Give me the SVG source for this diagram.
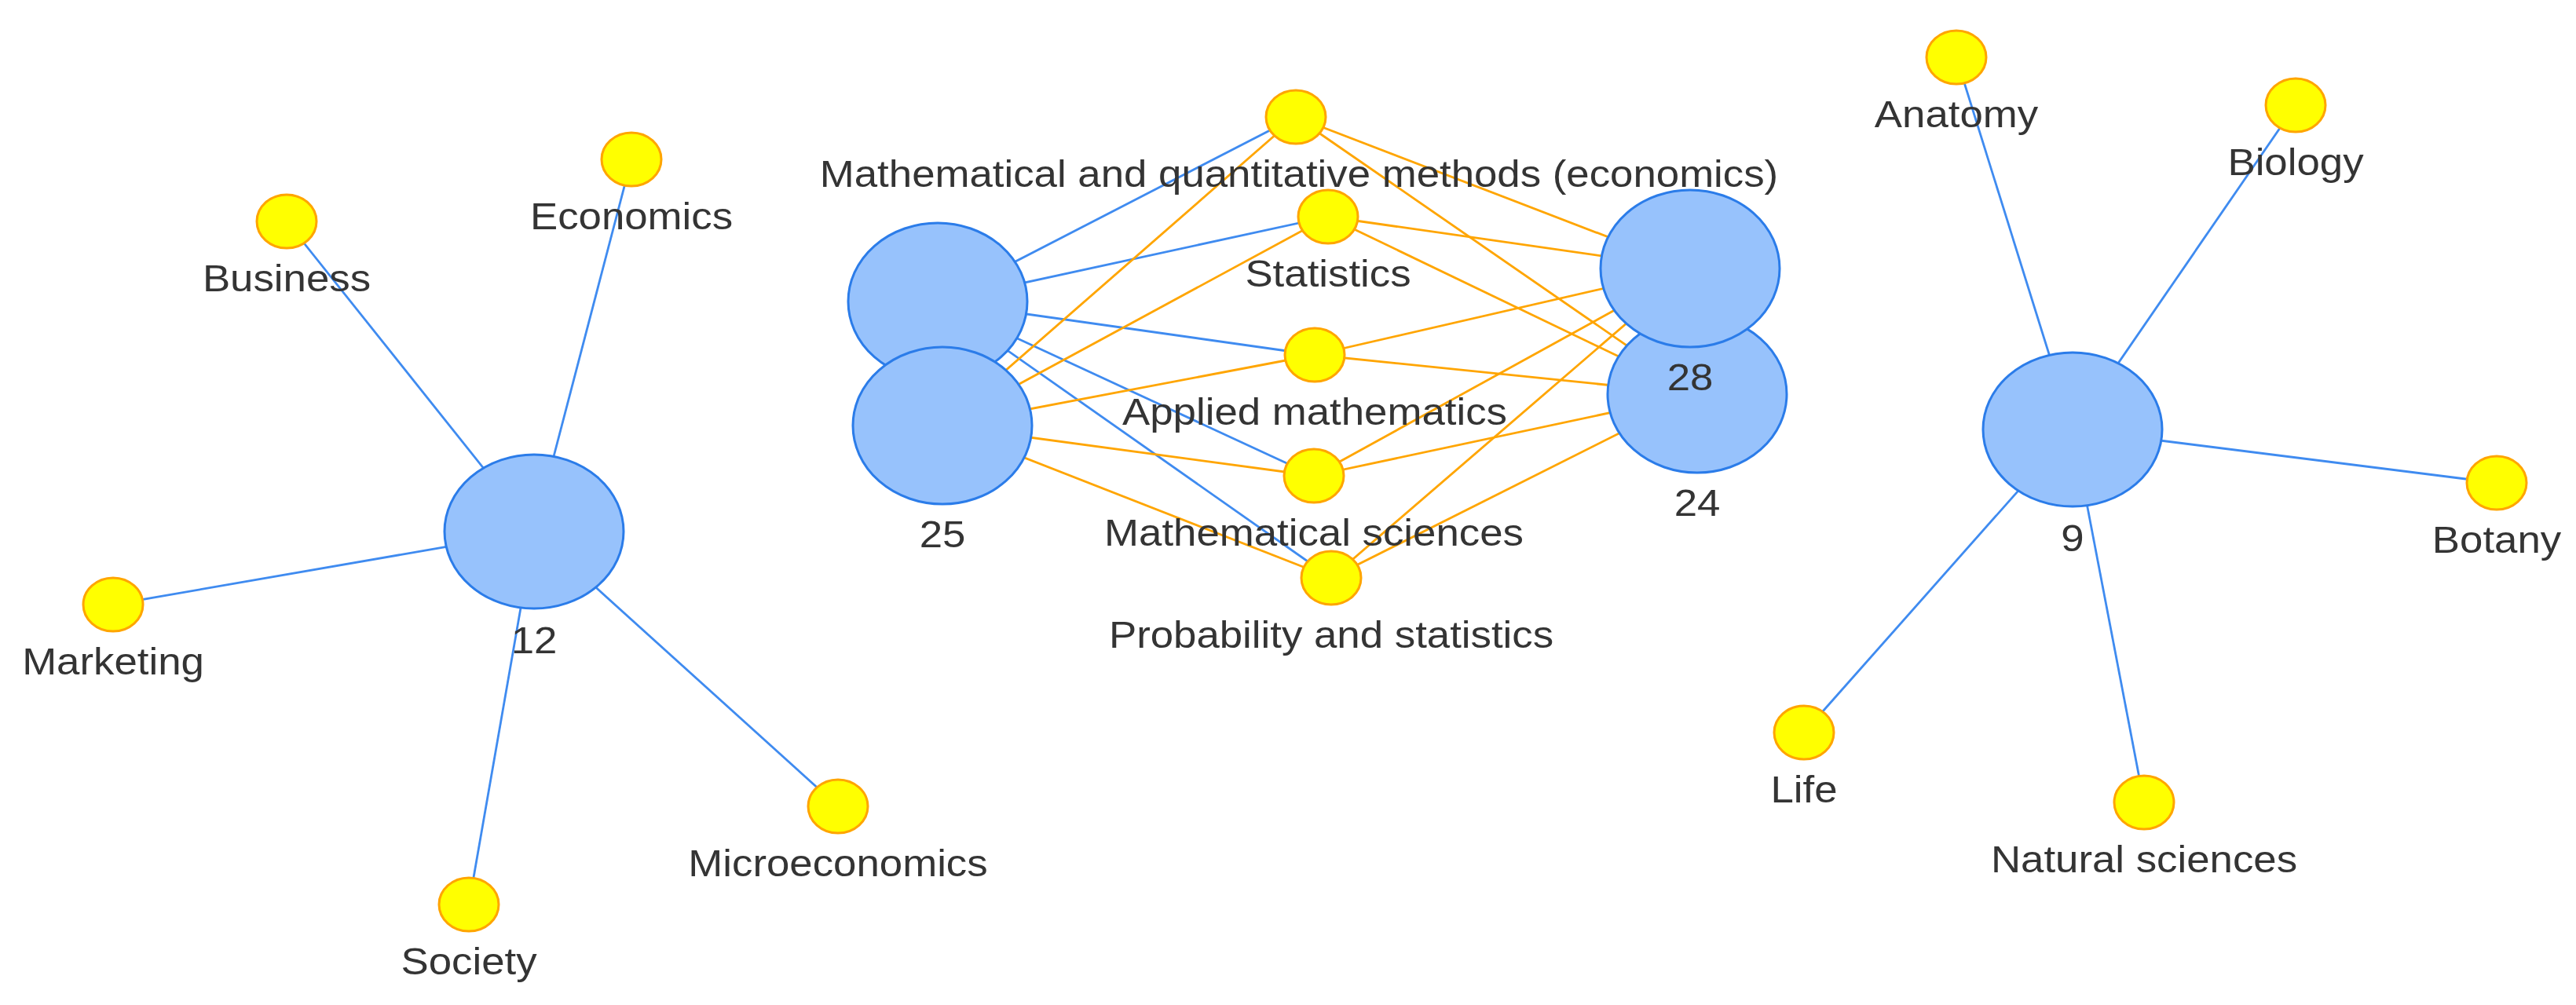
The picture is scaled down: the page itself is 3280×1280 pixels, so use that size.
<svg xmlns="http://www.w3.org/2000/svg" width="3280" height="1280" viewBox="0 0 3280 1280">
<style>
.hub{fill:#97C2FC;stroke:#2B7CE9;stroke-width:3}
.leaf{fill:#FFFF00;stroke:#FFA500;stroke-width:3}
.eb{stroke:#3F8BF0;stroke-width:2.8;fill:none}
.eo{stroke:#FFA500;stroke-width:2.8;fill:none}
text{font-family:"Liberation Sans",Arial,sans-serif;font-size:48px;fill:#343434;text-anchor:middle}
</style>
<rect width="3280" height="1280" fill="#FFFFFF"/>
<g id="edges">
<line class="eb" x1="680" y1="677" x2="365" y2="282"/>
<line class="eb" x1="680" y1="677" x2="804" y2="203"/>
<line class="eb" x1="680" y1="677" x2="144" y2="770"/>
<line class="eb" x1="680" y1="677" x2="597" y2="1152"/>
<line class="eb" x1="680" y1="677" x2="1067" y2="1027"/>
<line class="eb" x1="2639" y1="547" x2="2491" y2="73"/>
<line class="eb" x1="2639" y1="547" x2="2923" y2="134"/>
<line class="eb" x1="2639" y1="547" x2="3179" y2="615"/>
<line class="eb" x1="2639" y1="547" x2="2297" y2="933"/>
<line class="eb" x1="2639" y1="547" x2="2730" y2="1022"/>
<line class="eb" x1="1194" y1="384" x2="1650" y2="149"/>
<line class="eb" x1="1194" y1="384" x2="1691" y2="276"/>
<line class="eb" x1="1194" y1="384" x2="1674" y2="452"/>
<line class="eb" x1="1194" y1="384" x2="1673" y2="606"/>
<line class="eb" x1="1194" y1="384" x2="1695" y2="736"/>
<line class="eo" x1="1200" y1="542" x2="1650" y2="149"/>
<line class="eo" x1="1200" y1="542" x2="1691" y2="276"/>
<line class="eo" x1="1200" y1="542" x2="1674" y2="452"/>
<line class="eo" x1="1200" y1="542" x2="1673" y2="606"/>
<line class="eo" x1="1200" y1="542" x2="1695" y2="736"/>
<line class="eo" x1="2152" y1="342" x2="1650" y2="149"/>
<line class="eo" x1="2152" y1="342" x2="1691" y2="276"/>
<line class="eo" x1="2152" y1="342" x2="1674" y2="452"/>
<line class="eo" x1="2152" y1="342" x2="1673" y2="606"/>
<line class="eo" x1="2152" y1="342" x2="1695" y2="736"/>
<line class="eo" x1="2161" y1="502" x2="1650" y2="149"/>
<line class="eo" x1="2161" y1="502" x2="1691" y2="276"/>
<line class="eo" x1="2161" y1="502" x2="1674" y2="452"/>
<line class="eo" x1="2161" y1="502" x2="1673" y2="606"/>
<line class="eo" x1="2161" y1="502" x2="1695" y2="736"/>
</g>
<g id="n12"><ellipse class="hub" cx="680" cy="677" rx="114" ry="98"/><text transform="translate(680,832) scale(1.1,1)">12</text></g>
<g id="nBusiness"><ellipse class="leaf" cx="365" cy="282" rx="38" ry="34"/><text transform="translate(365,371) scale(1.1,1)">Business</text></g>
<g id="nEconomics"><ellipse class="leaf" cx="804" cy="203" rx="38" ry="34"/><text transform="translate(804,292) scale(1.1,1)">Economics</text></g>
<g id="nMarketing"><ellipse class="leaf" cx="144" cy="770" rx="38" ry="34"/><text transform="translate(144,859) scale(1.1,1)">Marketing</text></g>
<g id="nSociety"><ellipse class="leaf" cx="597" cy="1152" rx="38" ry="34"/><text transform="translate(597,1241) scale(1.1,1)">Society</text></g>
<g id="nMicroeconomics"><ellipse class="leaf" cx="1067" cy="1027" rx="38" ry="34"/><text transform="translate(1067,1116) scale(1.1,1)">Microeconomics</text></g>
<g id="nL1"><ellipse class="hub" cx="1194" cy="384" rx="114" ry="100"/></g>
<g id="n25"><ellipse class="hub" cx="1200" cy="542" rx="114" ry="100"/><text transform="translate(1200,697) scale(1.1,1)">25</text></g>
<g id="n24"><ellipse class="hub" cx="2161" cy="502" rx="114" ry="100"/><text transform="translate(2161,657) scale(1.1,1)">24</text></g>
<g id="n28"><ellipse class="hub" cx="2152" cy="342" rx="114" ry="100"/><text transform="translate(2152,497) scale(1.1,1)">28</text></g>
<g id="nMQ"><ellipse class="leaf" cx="1650" cy="149" rx="38" ry="34"/><text transform="translate(1654,238) scale(1.1,1)">Mathematical and quantitative methods (economics)</text></g>
<g id="nStatistics"><ellipse class="leaf" cx="1691" cy="276" rx="38" ry="34"/><text transform="translate(1691,365) scale(1.1,1)">Statistics</text></g>
<g id="nApplied"><ellipse class="leaf" cx="1674" cy="452" rx="38" ry="34"/><text transform="translate(1674,541) scale(1.1,1)">Applied mathematics</text></g>
<g id="nMathSci"><ellipse class="leaf" cx="1673" cy="606" rx="38" ry="34"/><text transform="translate(1673,695) scale(1.1,1)">Mathematical sciences</text></g>
<g id="nProb"><ellipse class="leaf" cx="1695" cy="736" rx="38" ry="34"/><text transform="translate(1695,825) scale(1.1,1)">Probability and statistics</text></g>
<g id="n9"><ellipse class="hub" cx="2639" cy="547" rx="114" ry="98"/><text transform="translate(2639,702) scale(1.1,1)">9</text></g>
<g id="nAnatomy"><ellipse class="leaf" cx="2491" cy="73" rx="38" ry="34"/><text transform="translate(2491,162) scale(1.1,1)">Anatomy</text></g>
<g id="nBiology"><ellipse class="leaf" cx="2923" cy="134" rx="38" ry="34"/><text transform="translate(2923,223) scale(1.1,1)">Biology</text></g>
<g id="nBotany"><ellipse class="leaf" cx="3179" cy="615" rx="38" ry="34"/><text transform="translate(3179,704) scale(1.1,1)">Botany</text></g>
<g id="nLife"><ellipse class="leaf" cx="2297" cy="933" rx="38" ry="34"/><text transform="translate(2297,1022) scale(1.1,1)">Life</text></g>
<g id="nNatSci"><ellipse class="leaf" cx="2730" cy="1022" rx="38" ry="34"/><text transform="translate(2730,1111) scale(1.1,1)">Natural sciences</text></g>
</svg>
